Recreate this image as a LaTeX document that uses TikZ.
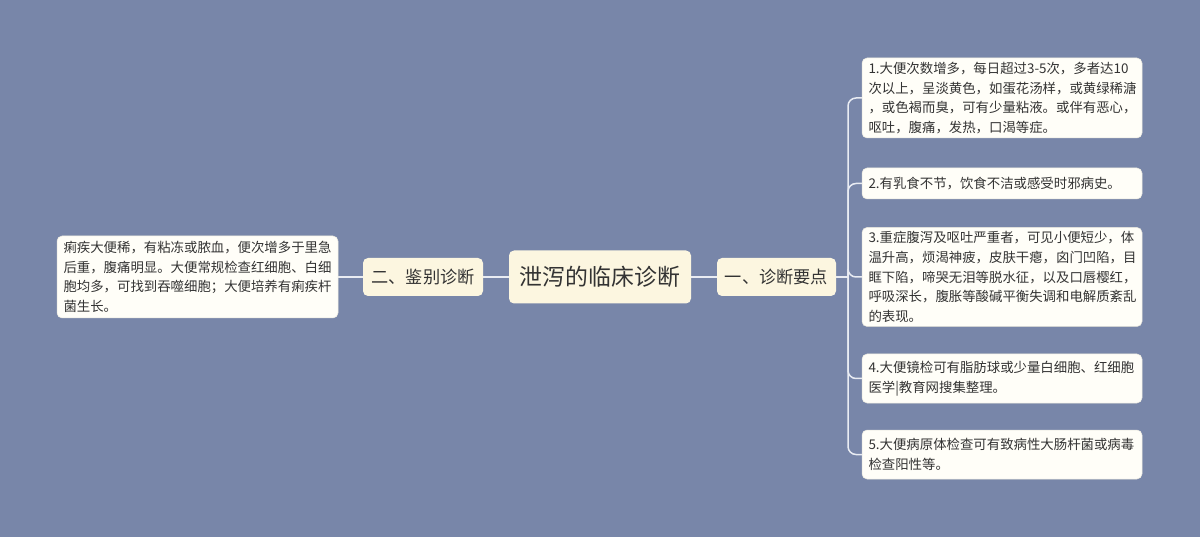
\documentclass[tikz,border=0pt]{standalone}
\usepackage{fontspec}
\setmainfont{Noto Sans CJK SC}
\usetikzlibrary{backgrounds}
\begin{document}
\begin{tikzpicture}[x=1pt,y=-1pt,
  every node/.style={text=black!80},
  rootbox/.style={draw=none,fill=rootfill,rounded corners=5pt,minimum width=182pt,minimum height=53pt,inner sep=0pt,font=\fontsize{22.9}{27}\selectfont},
  midbox/.style={draw=none,fill=rootfill,rounded corners=5pt,minimum width=120pt,minimum height=38pt,inner sep=0pt,font=\fontsize{17.2}{20}\selectfont},
  leafbox/.style={draw=leafline,line width=0.5pt,fill=leaffill,rounded corners=5pt,minimum width=280pt,text width=267pt,align=left,inner xsep=6.5pt,inner ysep=0pt,font=\fontsize{13.4}{19.6}\selectfont},
  conn/.style={draw=linec,line width=1.5pt,rounded corners=8pt}
]
\definecolor{bg}{HTML}{7886A9}
\definecolor{rootfill}{HTML}{FCF6E0}
\definecolor{leaffill}{HTML}{FFFEF8}
\definecolor{leafline}{HTML}{E8E6DC}
\definecolor{linec}{HTML}{E9ECF3}
\useasboundingbox (0,0) rectangle (1200,537);

\node[rootbox] (root) at (600,277) {泄泻的临床诊断};
\node[midbox] (m2) at (423,277) {二、鉴别诊断};
\node[midbox,minimum width=119pt] (m1) at (776.5,277) {一、诊断要点};

\node[leafbox,minimum width=281pt,minimum height=82pt,text width=268pt] (l0) at (197.5,277) {痢疾大便稀，有粘冻或脓血，便次增多于里急\\后重，腹痛明显。大便常规检查红细胞、白细\\胞均多，可找到吞噬细胞；大便培养有痢疾杆\\菌生长。};

\node[leafbox,minimum height=80pt] (r1) at (1002,98) {1.大便次数增多，每日超过3-5次，多者达10\\次以上，呈淡黄色，如蛋花汤样，或黄绿稀溏\\，或色褐而臭，可有少量粘液。或伴有恶心，\\呕吐，腹痛，发热，口渴等症。};
\node[leafbox,minimum height=31pt] (r2) at (1002,183.5) {2.有乳食不节，饮食不洁或感受时邪病史。};
\node[leafbox,minimum height=99pt] (r3) at (1002,277) {3.重症腹泻及呕吐严重者，可见小便短少，体\\温升高，烦渴神疲，皮肤干瘪，囟门凹陷，目\\眶下陷，啼哭无泪等脱水征，以及口唇樱红，\\呼吸深长，腹胀等酸碱平衡失调和电解质紊乱\\的表现。};
\node[leafbox,minimum height=49pt] (r4) at (1002,378.5) {4.大便镜检可有脂肪球或少量白细胞、红细胞\\医学|教育网搜集整理。};
\node[leafbox,minimum height=49pt] (r5) at (1002,454.5) {5.大便病原体检查可有致病性大肠杆菌或病毒\\检查阳性等。};

\begin{scope}[on background layer]
\fill[bg] (0,0) rectangle (1200,537);
\draw[conn] (root.west) -- (m2.east);
\draw[conn] (m2.west) -- (l0.east);
\draw[conn] (root.east) -- (m1.west);
\coordinate (fork) at (848,277);
\draw[conn] (m1.east) -- (fork);
\foreach \r in {r1,r2,r3,r4,r5} {
  \draw[conn] (fork) |- (\r.west);
}
\end{scope}
\end{tikzpicture}
\end{document}
